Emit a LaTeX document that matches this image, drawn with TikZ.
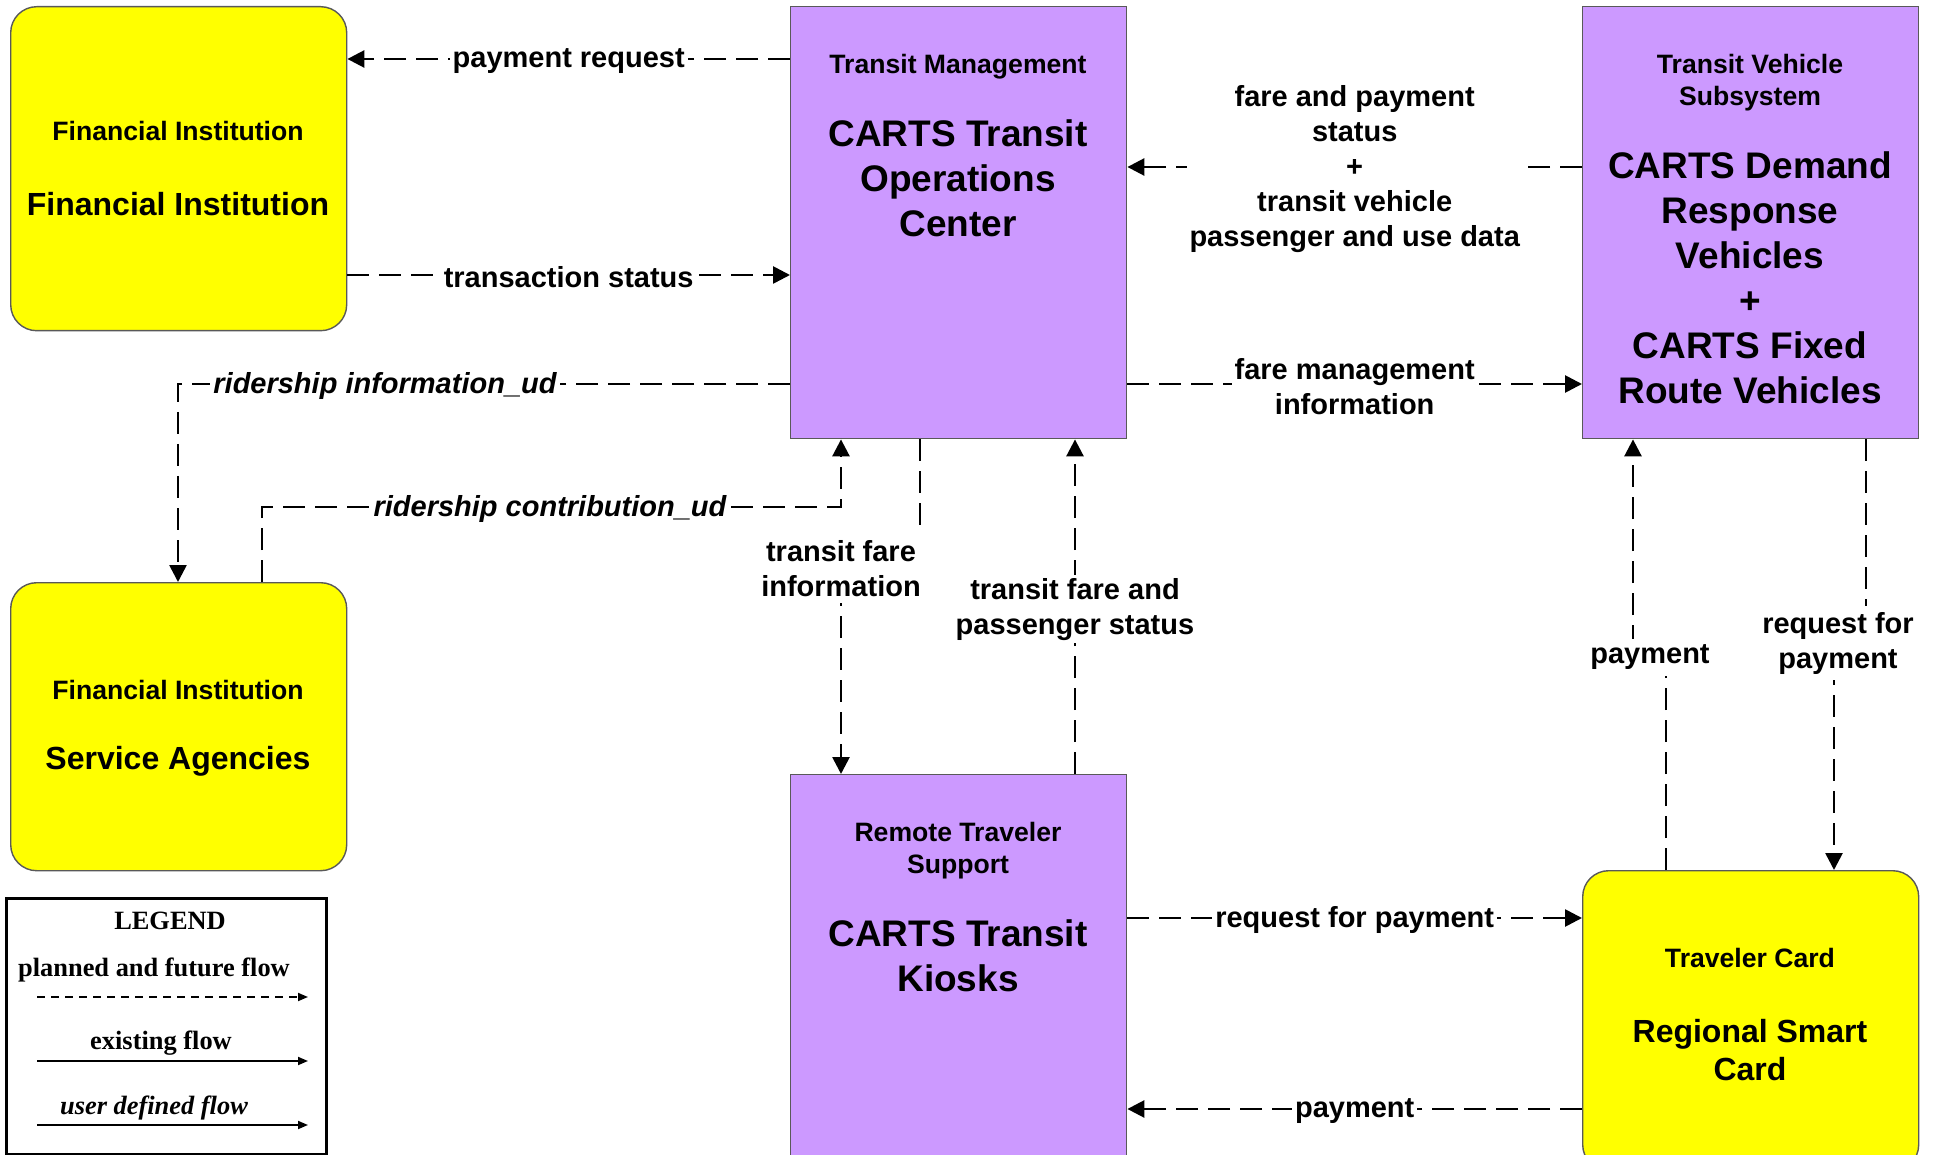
\documentclass[tikz,border=0pt]{standalone}
\usepackage{fontspec}
\setmainfont{Liberation Sans}
\newfontfamily\legfont{Liberation Serif}
\usetikzlibrary{arrows.meta}
\definecolor{boxpurple}{RGB}{204,153,255}
\definecolor{boxyellow}{RGB}{255,255,0}
\begin{document}
\begin{tikzpicture}[x=0.5pt,y=-0.5pt,
 ybox/.style={draw=black!65, line width=0.7pt, fill=boxyellow, rounded corners=13pt, minimum width=168pt, inner sep=0pt, anchor=north west},
 pbox/.style={draw=black!65, line width=0.7pt, fill=boxpurple, minimum width=168pt, inner sep=0pt, anchor=north west},
 smalltxt/.style={font=\bfseries\fontsize{13.3}{16}\selectfont, align=center, inner sep=0pt, yshift=-1.5pt},
 bigp/.style={font=\bfseries\fontsize{18.5}{22.5}\selectfont, align=center, inner sep=0pt},
 bigy/.style={font=\bfseries\fontsize{16}{19}\selectfont, align=center, inner sep=0pt, yshift=-0.8pt},
 lbl/.style={font=\bfseries\fontsize{14.5}{17.5}\selectfont, align=center, fill=white, inner sep=1.5pt, yshift=-1.2pt},
 lbli/.style={font=\bfseries\itshape\fontsize{14.5}{17.5}\selectfont, align=center, fill=white, inner sep=1.5pt, yshift=-1.2pt},
 flow/.style={line width=1.35pt, dash pattern=on 11pt off 5pt, -{Triangle[length=8.5pt,width=8.5pt]}},
 legtxt/.style={font=\legfont\bfseries\fontsize{13.2}{15}\selectfont, inner sep=0pt},
 legarrow/.style={line width=0.9pt, -{Triangle[length=5pt,width=4pt]}},
]
\useasboundingbox (0,0) rectangle (1935,1155);
\fill[white] (0,0) rectangle (1935,1155);
\clip (0,0) rectangle (1935,1155);

% boxes
\node[ybox, minimum height=162pt] (fi) at (10,6) {};
\node[pbox, minimum height=216pt] (toc) at (790,6) {};
\node[pbox, minimum height=216pt] (tvs) at (1582,6) {};
\node[ybox, minimum height=144pt] (sa) at (10,582) {};
\node[pbox, minimum height=200pt] (kiosk) at (790,774) {};
\node[ybox, minimum height=150pt] (card) at (1582,870) {};

% box texts
\node[smalltxt] (fismall) at (178,128) {Financial Institution};
\node[bigy] (fibig) at (178,202) {Financial Institution};
\node[smalltxt] (tocsmall) at (958,64) {Transit Management};
\node[bigp] (tocbig) at (958,178) {CARTS Transit\\Operations\\Center};
\node[smalltxt] (tvssmall) at (1750,80) {Transit Vehicle\\Subsystem};
\node[bigp] (tvsbig) at (1750,278) {CARTS Demand\\Response\\Vehicles\\+\\CARTS Fixed\\Route Vehicles};
\node[smalltxt] (sasmall) at (178,687) {Financial Institution};
\node[bigy] (sabig) at (178,760) {Service Agencies};
\node[smalltxt] (kiosksmall) at (958,848) {Remote Traveler\\Support};
\node[bigp] (kioskbig) at (958,956) {CARTS Transit\\Kiosks};
\node[smalltxt] (cardsmall) at (1750,955) {Traveler Card};
\node[bigy] (cardbig) at (1750,1048) {Regional Smart\\Card};

% connectors
\draw[flow] (toc.west |- 0,59) -- node[lbl] (l1) {payment request} (fi.east |- 0,59);
\draw[flow] (fi.east |- 0,275) -- node[lbl] (l2) {transaction status} (toc.west |- 0,275);
\draw[flow] (toc.west |- 0,384) -- (178,384) -- (sa.north -| 178,0);
\node[lbli] (l3) at (385,384) {ridership information\_ud};
\draw[flow] (sa.north -| 262,0) -- (262,507) -- (841,507) -- (toc.south -| 841,0);
\node[lbli] (l4) at (550,507) {ridership contribution\_ud};
\draw[flow] (toc.south -| 920,0) -- (920,566) -- (841,566) -- (kiosk.north -| 841,0);
\node[lbl, inner sep=3pt] (l5) at (841,566) {transit fare\\information};
\draw[flow] (kiosk.north -| 1075,0) -- node[lbl] (l6) {transit fare and\\passenger status} (toc.south -| 1075,0);
\draw[flow] (tvs.west |- 0,167) -- node[lbl] (l7) {fare and payment\\status\\+\\transit vehicle\\passenger and use data} (toc.east |- 0,167);
\draw[flow] (toc.east |- 0,384) -- node[lbl] (l8) {fare management\\information} (tvs.west |- 0,384);
\draw[flow] (card.north -| 1666,0) -- (1666,655) -- (1633,655) -- (tvs.south -| 1633,0);
\node[lbl, inner sep=3pt] (l9) at (1650,655) {payment};
\draw[flow] (tvs.south -| 1866,0) -- (1866,641) -- (1834,641) -- (card.north -| 1834,0);
\node[lbl, inner sep=3pt] (l10) at (1838,641) {request for\\payment};
\draw[flow] (kiosk.east |- 0,918) -- node[lbl] (l11) {request for payment} (card.west |- 0,918);
\draw[flow] (card.west |- 0,1109) -- node[lbl] (l12) {payment} (kiosk.east |- 0,1109);

% legend
\node[draw=black, line width=1.5pt, minimum width=160pt, minimum height=128pt, anchor=north west, inner sep=0pt] (legend) at (5,897) {};
\node[legtxt] (legtitle) at (170,921) {LEGEND};
\node[legtxt] (leg1) at (154,970) {planned and future flow};
\coordinate (l1a) at (37,997);
\coordinate (l1b) at (308,997);
\draw[legarrow, dash pattern=on 4pt off 3pt] (l1a) -- (l1b);
\node[legtxt] (leg2) at (161,1043) {existing flow};
\coordinate (l2a) at (37,1061);
\coordinate (l2b) at (308,1061);
\draw[legarrow] (l2a) -- (l2b);
\node[legtxt, font=\legfont\bfseries\itshape\fontsize{13.2}{15}\selectfont] (leg3) at (154,1108) {user defined flow};
\coordinate (l3a) at (37,1125);
\coordinate (l3b) at (308,1125);
\draw[legarrow] (l3a) -- (l3b);
\end{tikzpicture}
\end{document}
